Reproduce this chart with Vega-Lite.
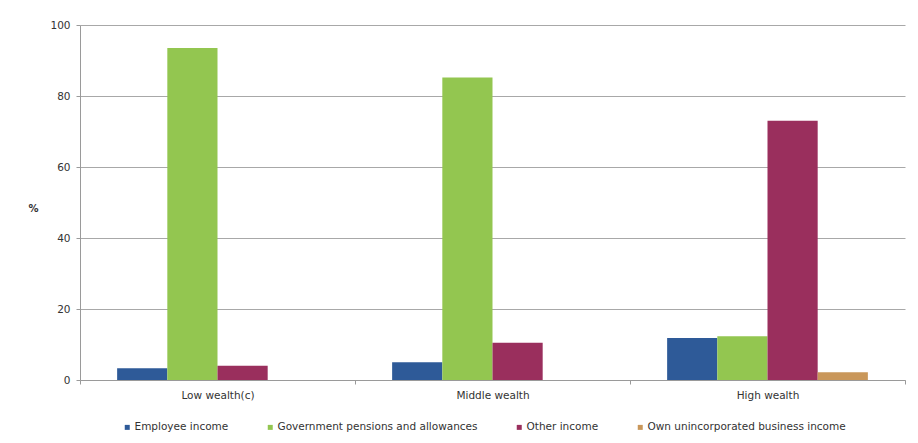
{
  "$schema": "https://vega.github.io/schema/vega-lite/v6.json",
  "width": 825,
  "height": 355,
  "autosize": "none",
  "padding": {"left": 80, "top": 25, "right": 13, "bottom": 63},
  "background": "white",
  "data": {
    "values": [
      {"group": "Low wealth(c)", "source": "Employee income", "value": 3.3},
      {"group": "Low wealth(c)", "source": "Government pensions and allowances", "value": 93.5},
      {"group": "Low wealth(c)", "source": "Other income", "value": 4.0},
      {"group": "Low wealth(c)", "source": "Own unincorporated business income", "value": 0},
      {"group": "Middle wealth", "source": "Employee income", "value": 5.0},
      {"group": "Middle wealth", "source": "Government pensions and allowances", "value": 85.2},
      {"group": "Middle wealth", "source": "Other income", "value": 10.5},
      {"group": "Middle wealth", "source": "Own unincorporated business income", "value": 0},
      {"group": "High wealth", "source": "Employee income", "value": 11.8},
      {"group": "High wealth", "source": "Government pensions and allowances", "value": 12.3},
      {"group": "High wealth", "source": "Other income", "value": 73.0},
      {"group": "High wealth", "source": "Own unincorporated business income", "value": 2.2}
    ]
  },
  "mark": {"type": "bar"},
  "encoding": {
    "x": {
      "field": "group",
      "type": "nominal",
      "sort": ["Low wealth(c)", "Middle wealth", "High wealth"],
      "scale": {"paddingInner": 0, "paddingOuter": 0},
      "axis": {
        "title": null,
        "labelAngle": 0,
        "tickBand": "extent",
        "domainColor": "#9a9a9a",
        "tickColor": "#9a9a9a",
        "tickSize": 4,
        "labelFont": "DejaVu Sans",
        "labelFontSize": 10.5,
        "labelColor": "#333333",
        "labelPadding": 6
      }
    },
    "xOffset": {
      "field": "source",
      "type": "nominal",
      "scale": {"paddingInner": 0, "paddingOuter": 0.74}
    },
    "y": {
      "field": "value",
      "type": "quantitative",
      "scale": {"domain": [0, 100]},
      "axis": {
        "title": "%",
        "titleAngle": 0,
        "titleFont": "DejaVu Sans",
        "titleFontSize": 10,
        "titleFontWeight": "bold",
        "titleColor": "#333333",
        "titleX": -47,
        "titleY": 188,
        "values": [0, 20, 40, 60, 80, 100],
        "gridColor": "#a8a8a8",
        "domainColor": "#9a9a9a",
        "tickColor": "#9a9a9a",
        "tickSize": 4,
        "labelFont": "DejaVu Sans",
        "labelFontSize": 10.5,
        "labelColor": "#333333",
        "labelPadding": 6
      }
    },
    "color": {
      "field": "source",
      "type": "nominal",
      "scale": {
        "domain": ["Employee income", "Government pensions and allowances", "Other income", "Own unincorporated business income"],
        "range": ["#2e5a98", "#93c650", "#9a2f5d", "#c9975a"]
      },
      "legend": {
        "title": null,
        "orient": "none",
        "legendX": 42,
        "legendY": 397,
        "direction": "horizontal",
        "symbolType": "square",
        "symbolSize": 25,
        "symbolStrokeWidth": 0,
        "labelFont": "DejaVu Sans",
        "labelFontSize": 10.5,
        "labelColor": "#333333",
        "labelLimit": 0,
        "labelOffset": 2,
        "columnPadding": 36
      }
    }
  },
  "config": {"view": {"stroke": null}}
}
